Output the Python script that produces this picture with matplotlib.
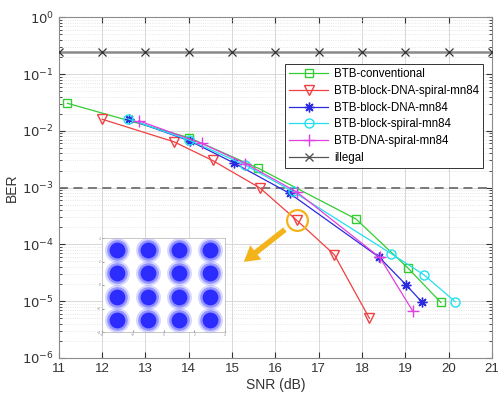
import matplotlib.pyplot as plt
import numpy as np

plt.rcParams['font.family'] = ['Liberation Sans', 'DejaVu Sans']

# BER curves (SNR in dB)
snr_conv = [11.2, 14.0, 15.6, 17.86, 19.05, 19.82]
ber_conv = [3.05e-2, 7.6e-3, 2.2e-3, 2.8e-4, 3.9e-5, 9.5e-6]

snr_bds = [12.0, 13.66, 14.55, 15.64, 16.49, 17.36, 18.17]
ber_bds = [1.6e-2, 6.4e-3, 3.0e-3, 9.9e-4, 2.67e-4, 6.6e-5, 5.0e-6]

snr_bd = [12.62, 14.03, 15.05, 16.33, 18.4, 19.01, 19.38]
ber_bd = [1.6e-2, 6.6e-3, 2.7e-3, 7.9e-4, 5.9e-5, 1.96e-5, 9.7e-6]

snr_bs = [12.6, 14.0, 15.3, 16.4, 18.67, 19.42, 20.15]
ber_bs = [1.62e-2, 6.9e-3, 2.5e-3, 8.6e-4, 6.9e-5, 2.95e-5, 9.8e-6]

snr_ds = [12.85, 14.3, 15.31, 16.49, 18.41, 19.17]
ber_ds = [1.5e-2, 6.0e-3, 2.65e-3, 8.4e-4, 5.9e-5, 6.7e-6]

snr_illegal = list(range(11, 22))
ber_illegal = [0.242] * len(snr_illegal)

ber_limit = 1e-3

# 16-QAM constellation cluster centres for the inset
qam_i = [-3, -1, 1, 3] * 4
qam_q = [3] * 4 + [1] * 4 + [-1] * 4 + [-3] * 4

fig = plt.figure(figsize=(4.98, 4.0), dpi=100)
ax = fig.add_axes([0.118, 0.105, 0.870, 0.852])

ax.plot(snr_illegal, ber_illegal, color='#8a8a8a', lw=1.8, zorder=3)
ax.plot(snr_illegal, ber_illegal, ls='none', marker='x', color='#333333', ms=6, mew=0.9, zorder=4)
ax.axhline(ber_limit, color='#707070', ls=(0, (5, 3)), lw=1.3, zorder=2)

ax.plot(snr_conv, ber_conv, color='#33cc33', marker='s', mfc='none', ms=6, lw=0.9, label='BTB-conventional')
ax.plot(snr_bds, ber_bds, color='#f04040', marker='v', mfc='none', ms=7, lw=0.9, label='BTB-block-DNA-spiral-mn84')
ax.plot(snr_bd, ber_bd, color='#2a2ae0', marker=(8, 2, 0), ms=7, mew=1.0, lw=0.9, label='BTB-block-DNA-mn84')
ax.plot(snr_bs, ber_bs, color='#22e0ee', marker='o', mfc='none', ms=6.5, lw=0.9, label='BTB-block-spiral-mn84')
ax.plot(snr_ds, ber_ds, color='#e040e0', marker='+', ms=8, lw=0.9, label='BTB-DNA-spiral-mn84')
ax.plot([], [], color='#555555', marker='x', ms=6, lw=0.9, label='illegal')

# highlight ring and arrow
ax.plot(snr_bds[4], ber_bds[4], ls='none', marker='o', ms=15, mfc='none',
        mec='#f2b41a', mew=1.6, zorder=5)
ax.annotate('', xy=(15.22, 4.6e-5), xytext=(16.27, 1.95e-4),
            arrowprops=dict(arrowstyle='simple,head_length=1.1,head_width=1.3,tail_width=0.4',
                            color='#f2b41a', lw=0), zorder=6)

ax.set_yscale('log')
ax.set_xlim(11, 21)
ax.set_ylim(1e-6, 1)
ax.set_xticks(range(11, 22))
ax.set_yticks([10.0 ** k for k in range(-6, 1)])
ax.set_yticklabels([r'$10^{%d}$' % k for k in range(-6, 1)])
ax.tick_params(which='both', direction='in', top=True, right=True, colors='#333333', labelsize=9.5)
ax.tick_params(which='major', length=4)
ax.tick_params(which='minor', length=2)
ax.grid(True, which='major', color='#d8d8d8', lw=0.7)
ax.grid(True, which='minor', axis='y', color='#e0e0e0', ls=':', lw=0.6)
for s in ax.spines.values():
    s.set_color('#8c8c8c')
ax.set_xlabel('SNR (dB)', fontsize=10, color='#333333', labelpad=2)
ax.set_ylabel('BER', fontsize=10, color='#333333', labelpad=2)

leg = ax.legend(loc='upper right', bbox_to_anchor=(0.993, 0.88), fontsize=8.3,
                frameon=True, fancybox=False, edgecolor='#333333', framealpha=1,
                handlelength=3.4, borderpad=0.35, labelspacing=0.42, handletextpad=0.5)
leg.get_frame().set_linewidth(0.7)

# constellation inset
ins = fig.add_axes([0.205, 0.17, 0.247, 0.235])
for size, alpha in [(320, 0.18), (220, 0.35), (130, 0.85)]:
    ins.scatter(qam_i, qam_q, s=size, color='#1a1aff', alpha=alpha, lw=0)
ins.set_xlim(-4, 4)
ins.set_ylim(-4, 4)
ins.set_xticks([-4, -2, 0, 2, 4])
ins.set_yticks([-4, -2, 0, 2, 4])
ins.tick_params(direction='in', length=1.5, labelsize=2.5, colors='#999999', pad=1)
for s in ins.spines.values():
    s.set_color('#b0b0b0')
    s.set_linewidth(0.5)

fig.savefig('out.png', dpi=100)
